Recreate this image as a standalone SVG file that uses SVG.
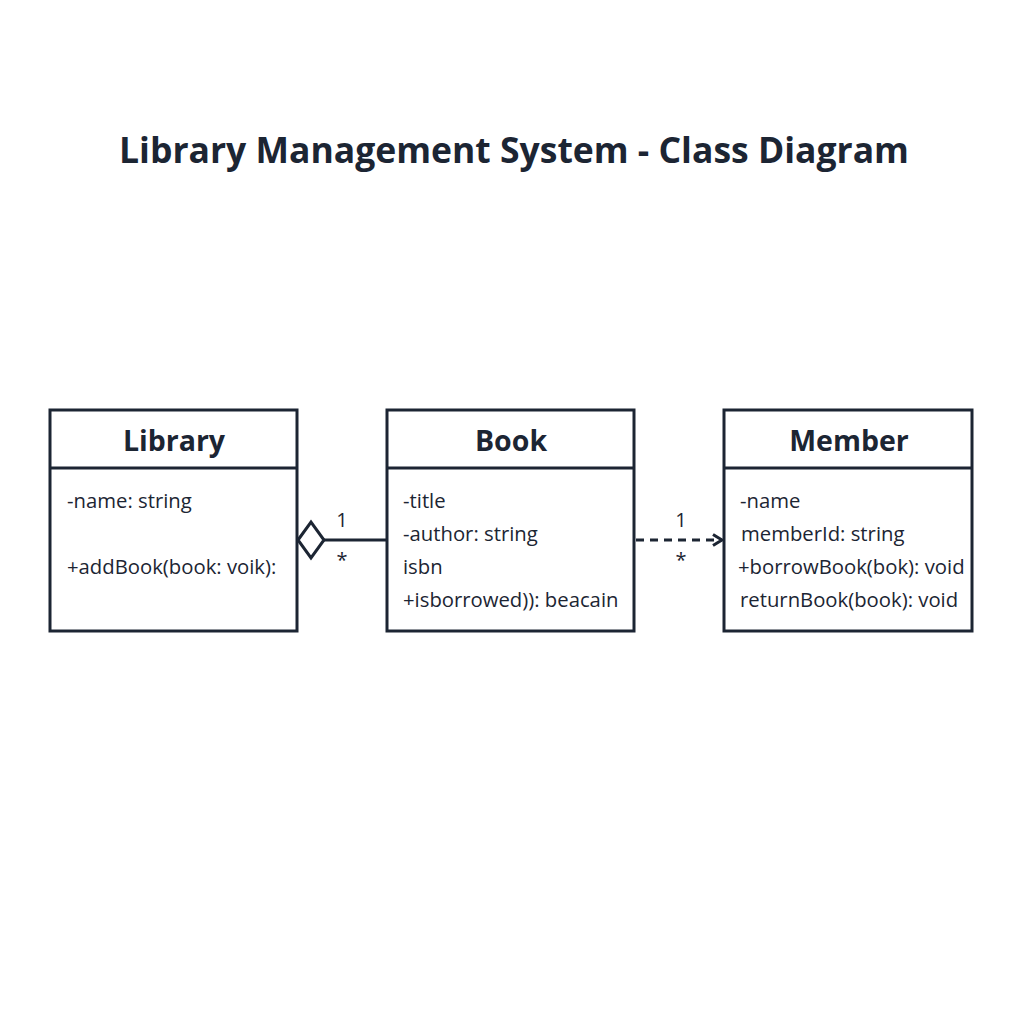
<svg xmlns="http://www.w3.org/2000/svg" width="1024" height="1024" viewBox="0 0 1024 1024">
<style>
.box{fill:#fff;stroke:#1c2533;stroke-width:3}
.div{stroke:#1c2533;stroke-width:3}
.hd{font-family:"Open Sans","Noto Sans",sans-serif;font-weight:bold;font-size:28.5px;fill:#1c2533;text-anchor:middle}
.tx{font-family:"Open Sans","Noto Sans",sans-serif;font-size:20.3px;fill:#1c2533}
.ml{font-family:"Open Sans","Noto Sans",sans-serif;font-size:20px;fill:#1c2533;text-anchor:middle}
.ln{stroke:#1c2533;stroke-width:3;fill:none}
</style>
<defs>
<marker id="arr" viewBox="0 0 14 14" refX="12" refY="7" markerWidth="14" markerHeight="14" markerUnits="userSpaceOnUse" orient="auto">
<path d="M3,1.5 L12,7 L3,12.5" fill="none" stroke="#1c2533" stroke-width="3"/>
</marker>
</defs>
<rect width="1024" height="1024" fill="#fff"/>
<text x="514" y="163" font-family="'Open Sans','Noto Sans',sans-serif" font-weight="bold" font-size="35.5" fill="#1c2533" text-anchor="middle">Library Management System - Class Diagram</text>
<g id="library">
<rect class="box" x="50" y="410" width="247" height="221"/>
<line class="div" x1="50" y1="468" x2="297" y2="468"/>
<text class="hd" x="174" y="451">Library</text>
<text class="tx" x="67" y="508">-name: string</text>
<text class="tx" x="67" y="574">+addBook(book: voik):</text>
</g>
<g id="book">
<rect class="box" x="387" y="410" width="247" height="221"/>
<line class="div" x1="387" y1="468" x2="634" y2="468"/>
<text class="hd" x="511" y="451">Book</text>
<text class="tx" x="403" y="508">-title</text>
<text class="tx" x="403" y="541">-author: string</text>
<text class="tx" x="403" y="574">isbn</text>
<text class="tx" x="403" y="607">+isborrowed)): beacain</text>
</g>
<g id="member">
<rect class="box" x="724" y="410" width="248" height="221"/>
<line class="div" x1="724" y1="468" x2="972" y2="468"/>
<text class="hd" x="849" y="451">Member</text>
<text class="tx" x="740" y="508">-name</text>
<text class="tx" x="741" y="541">memberId: string</text>
<text class="tx" x="738" y="574">+borrowBook(bok): void</text>
<text class="tx" x="740" y="607">returnBook(book): void</text>
</g>
<g id="connectors">
<path class="ln" d="M298,540 L311,522 L324,540 L311,558 Z" fill="#fff"/>
<line class="ln" x1="324" y1="540" x2="387" y2="540"/>
<text class="ml" x="342" y="527">1</text>
<text class="ml" x="342" y="567">*</text>
<line class="ln" x1="636" y1="540" x2="722" y2="540" stroke-dasharray="8,6" marker-end="url(#arr)"/>
<text class="ml" x="681" y="527">1</text>
<text class="ml" x="681" y="567">*</text>
</g>
</svg>
